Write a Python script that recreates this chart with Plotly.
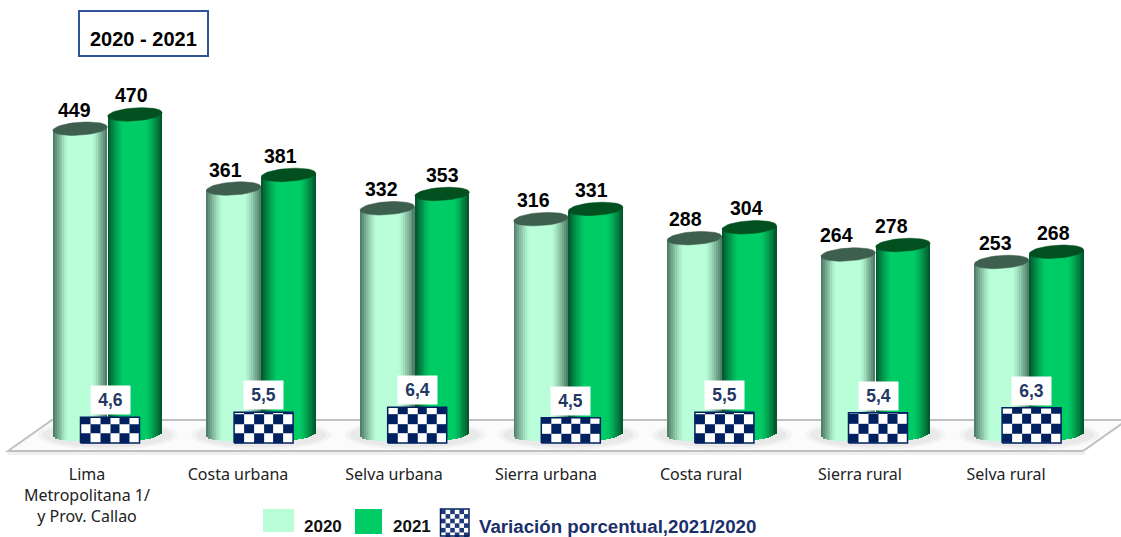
import math
import plotly.graph_objects as go

# ---------- data ----------
categories = ["Lima<br>Metropolitana 1/<br>y Prov. Callao", "Costa urbana", "Selva urbana",
              "Sierra urbana", "Costa rural", "Sierra rural", "Selva rural"]
values_2020 = [449, 361, 332, 316, 288, 264, 253]
values_2021 = [470, 381, 353, 331, 304, 278, 268]
variation = [4.6, 5.5, 6.4, 4.5, 5.5, 5.4, 6.3]
variation_labels = ["4,6", "5,5", "6,4", "4,5", "5,5", "5,4", "6,3"]

# ---------- layout constants (pixels of the 1121x537 page) ----------
W, H, PLOT_BOTTOM = 1121, 537, 456
STEP = 153.6
C0 = 107.5
ZERO_PX, SCALE = 434.0, 0.68
ZERO2_PX, SCALE2 = 443.0, 5.6
LIGHT, GREEN, NAVY = "#b9fdd9", "#00cc66", "#002060"
BOLD = "Liberation Sans"
BAR_W = 54.5 / STEP
OFF = 27.4 / STEP
N = 28
CAP_B = 6.5 / SCALE
TILT = 1.8 / SCALE
label_shift_2020 = [-6, -8, -6, -7, -9, -12, -6]
label_shift_2021 = [-3, -8, 0, -4, -3, -11, -3]
tick_px = [87, 238, 394, 546, 701, 860, 1006]


def X(px):
    return (px - C0) / STEP


def mix(a, b, t):
    ca = [int(a[i:i + 2], 16) for i in (1, 3, 5)]
    cb = [int(b[i:i + 2], 16) for i in (1, 3, 5)]
    return "rgb(%d,%d,%d)" % tuple(round(p + (q - p) * t) for p, q in zip(ca, cb))


def shade(base, dark, u):
    a = abs(u)
    lim = 0.42
    if a <= lim:
        return base
    t = ((a - lim) / (1 - lim)) ** 1.25
    return mix(base, dark, t)


fig = go.Figure()
centers = list(range(len(categories)))

# cylinders: bodies as narrow overlaid bars, caps as filled outlines
series = [(values_2020, -OFF, LIGHT, "#4a7560", "#3f5f4e"),
          (values_2021, OFF, GREEN, "#03502a", "#02501f")]
for vals, off, base, dark, cap in series:
    for k in range(N):
        u = 2 * (k + 0.5) / N - 1
        bottom = -CAP_B * math.sqrt(1 - u * u) + TILT * u
        fig.add_trace(go.Bar(
            x=[c + off + u * BAR_W / 2 for c in centers],
            y=[v - bottom + TILT * u for v in vals],
            base=[bottom] * len(vals),
            width=BAR_W / N * 1.12,
            marker=dict(color=shade(base, dark, u), line=dict(width=0)),
            showlegend=False, hoverinfo="skip"))
    xs, ys = [], []
    for c, v in zip(centers, vals):
        for d in range(0, 361, 8):
            a = math.radians(d)
            u = math.cos(a)
            xs.append(c + off + u * BAR_W / 2)
            ys.append(v + CAP_B * math.sin(a) + TILT * u)
        xs.append(None)
        ys.append(None)
    fig.add_trace(go.Scatter(x=xs, y=ys, mode="lines", fill="toself", fillcolor=cap,
                             line=dict(width=0.5, color=cap), showlegend=False, hoverinfo="skip"))

# variation boxes: checkered blocks on a secondary axis
CELL_Y = 9.6 / SCALE2
HALF = 29.5 / STEP
NUDGE = 2.5 / STEP
ox, oy = [], []
for c, v in zip(centers, variation):
    cx = c + NUDGE
    xe = [cx - HALF + i * (2 * HALF) / 6 for i in range(7)]
    ye = [0.0]
    while ye[-1] + CELL_Y < v - 0.02:
        ye.append(ye[-1] + CELL_Y)
    ye.append(v)
    z = [[(i + j) % 2 for i in range(6)] for j in range(len(ye) - 1)]
    fig.add_trace(go.Heatmap(x=xe, y=ye, z=z, yaxis="y2", zmin=0, zmax=1, showscale=False,
                             colorscale=[[0, NAVY], [1, "#ffffff"]], hoverinfo="skip"))
    ox += [cx - HALF, cx + HALF, cx + HALF, cx - HALF, cx - HALF, None]
    oy += [0, 0, v, v, 0, None]
fig.add_trace(go.Scatter(x=ox, y=oy, yaxis="y2", mode="lines", line=dict(color=NAVY, width=1.5),
                         showlegend=False, hoverinfo="skip"))


def px_x(p):
    return p / W


def px_y(p):
    return 1 - p / PLOT_BOTTOM


def poly(points):
    return "M " + " L ".join(f"{px_x(a):.5f},{px_y(b):.5f}" for a, b in points) + " Z"


shapes = []
# floor, with soft shadow beneath the front edge
shapes.append(dict(type="path", xref="paper", yref="paper", layer="below",
                   path=poly([(8, 452), (1085, 452), (1085, 455), (8, 455)]),
                   fillcolor="#f0f0f0", line=dict(width=0)))
shapes.append(dict(type="path", xref="paper", yref="paper", layer="below",
                   path=poly([(8, 451), (52, 420), (1127, 420), (1083, 451)]),
                   fillcolor="#fbfbfb", line=dict(color="#c0c0c0", width=2)))
# soft floor shadows beside each pair of cylinders
for c in centers:
    for grow, alpha in ((10, 0.05), (5, 0.06)):
        shapes.append(dict(type="circle", xref="x", yref="paper", layer="below",
                           x0=c - (60 + grow) / STEP, x1=c + (60 + grow) / STEP,
                           y0=px_y(445 + grow / 2), y1=px_y(425 - grow / 2),
                           fillcolor=f"rgba(90,90,90,{alpha})", line=dict(width=0)))
# title box
shapes.append(dict(type="rect", xref="paper", yref="paper",
                   x0=px_x(79), x1=px_x(208), y0=px_y(11), y1=px_y(56),
                   fillcolor="white", line=dict(color="#2f5597", width=2)))
# legend swatches
shapes.append(dict(type="rect", xref="paper", yref="paper", x0=px_x(263), x1=px_x(294),
                   y0=px_y(509), y1=px_y(532), fillcolor=LIGHT, line=dict(width=0)))
shapes.append(dict(type="rect", xref="paper", yref="paper", x0=px_x(355), x1=px_x(382),
                   y0=px_y(509), y1=px_y(534), fillcolor=GREEN, line=dict(width=0)))
cell = 4.6
for r in range(6):
    for q in range(6):
        if (r + q) % 2 == 0:
            shapes.append(dict(type="rect", xref="paper", yref="paper",
                               x0=px_x(441 + q * cell), x1=px_x(441 + (q + 1) * cell),
                               y0=px_y(509.5 + r * cell), y1=px_y(509.5 + (r + 1) * cell),
                               fillcolor="#1f3a78", line=dict(width=0)))
shapes.append(dict(type="rect", xref="paper", yref="paper", x0=px_x(440.5), x1=px_x(469),
                   y0=px_y(509), y1=px_y(536), fillcolor="rgba(0,0,0,0)",
                   line=dict(color=NAVY, width=1.5)))

ann = []
for vals, off, shifts in ((values_2020, -OFF, label_shift_2020), (values_2021, OFF, label_shift_2021)):
    for c, v, s in zip(centers, vals, shifts):
        ann.append(dict(x=c + off, y=v, xref="x", yref="y", text=f"<b>{v}</b>", showarrow=False,
                        xshift=s, yshift=6, yanchor="bottom",
                        font=dict(family=BOLD, size=19.5, color="#000000")))
for c, v, t in zip(centers, variation, variation_labels):
    ann.append(dict(x=c + NUDGE, y=v, xref="x", yref="y2", text=f"<b>{t}</b>", showarrow=False,
                    yshift=2, yanchor="bottom", width=39, height=28, bgcolor="white",
                    borderpad=0, font=dict(family=BOLD, size=17.5, color="#1f3864")))


def para(x, y, text, size, color):
    ann.append(dict(x=px_x(x), y=px_y(y), xref="paper", yref="paper", text=f"<b>{text}</b>",
                    showarrow=False, xanchor="left", yanchor="middle",
                    font=dict(family=BOLD, size=size, color=color)))


para(302, 526, "2020", 17, "#111111")
para(391, 526, "2021", 17, "#111111")
para(477, 526, "Variación porcentual,2021/2020", 18.7, "#1b2f6b")
ann.append(dict(x=px_x(143.5), y=px_y(39), xref="paper", yref="paper", text="<b>2020 - 2021</b>",
                xanchor="center", yanchor="middle", showarrow=False,
                font=dict(family=BOLD, size=20, color="#000000")))

fig.update_layout(
    width=W, height=H, autosize=False, barmode="overlay", bargap=0, showlegend=False,
    margin=dict(l=0, r=0, t=0, b=H - PLOT_BOTTOM, pad=0),
    paper_bgcolor="white", plot_bgcolor="rgba(0,0,0,0)",
    xaxis=dict(range=[X(0), X(W)], showgrid=False, zeroline=False, showline=False,
               tickvals=[X(p) for p in tick_px], ticktext=categories, ticks="outside",
               ticklen=4, tickcolor="rgba(0,0,0,0)",
               tickfont=dict(family="Noto Sans", size=16, color="#222222"),
               automargin=False, fixedrange=True),
    yaxis=dict(range=[(ZERO_PX - PLOT_BOTTOM) / SCALE, ZERO_PX / SCALE], visible=False, fixedrange=True),
    yaxis2=dict(range=[(ZERO2_PX - PLOT_BOTTOM) / SCALE2, ZERO2_PX / SCALE2], visible=False,
                overlaying="y", fixedrange=True),
    shapes=shapes, annotations=ann,
)
fig.write_html("out.html", config={"displayModeBar": False, "responsive": False},
               post_script="document.body.style.margin='0';document.documentElement.style.overflow='hidden';")
